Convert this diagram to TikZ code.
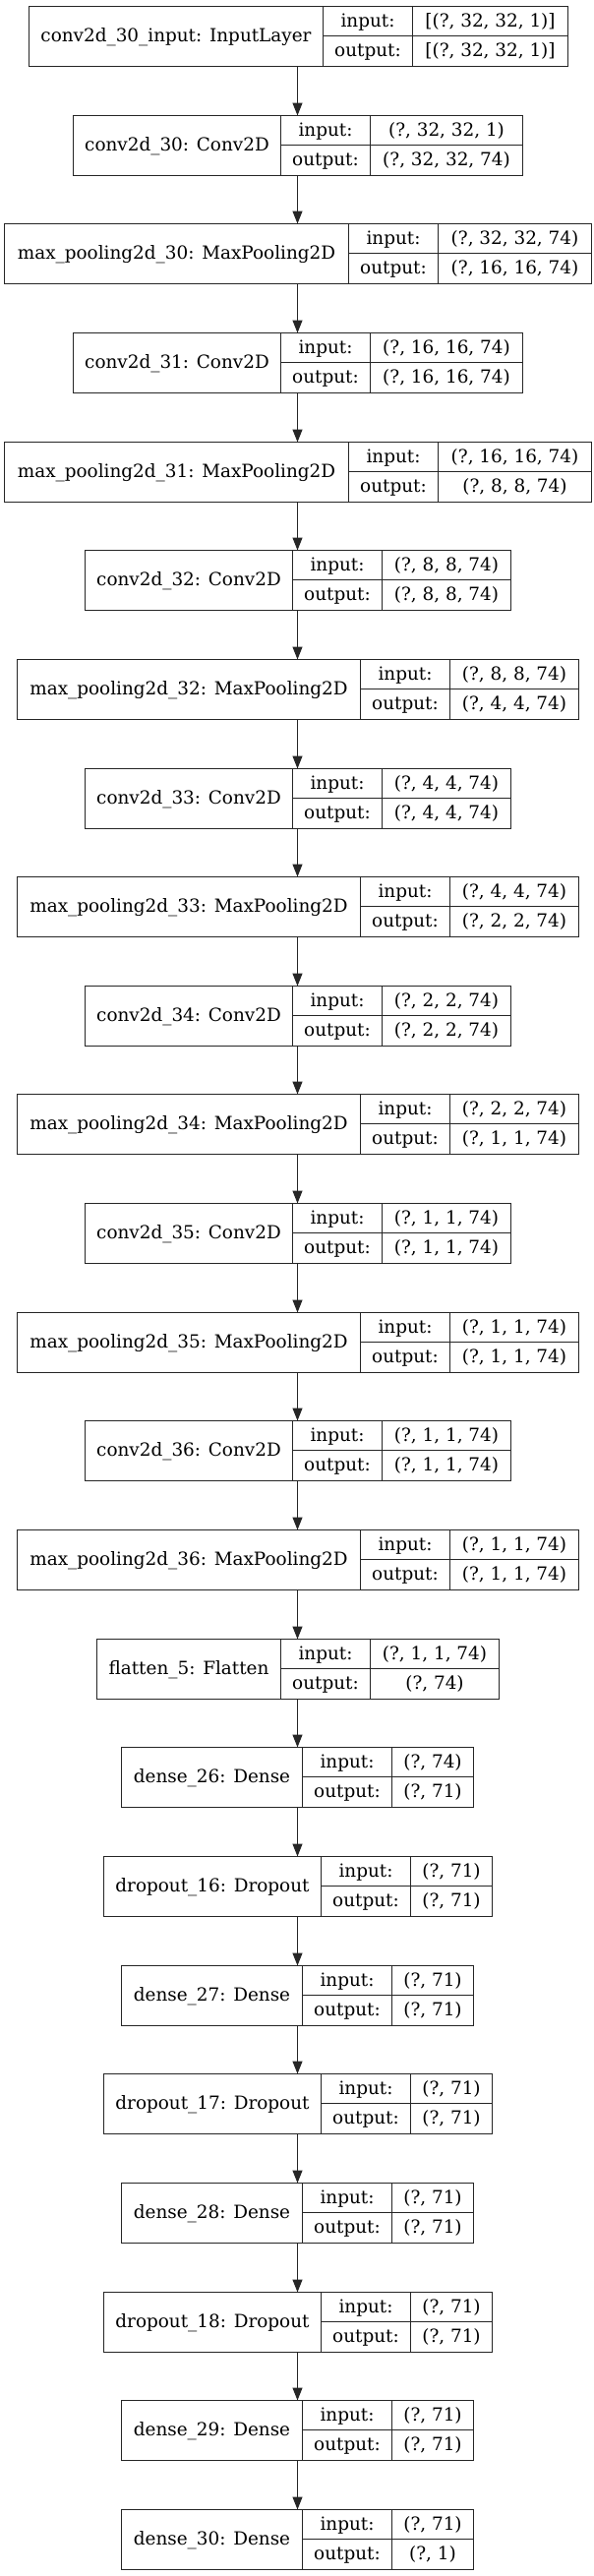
\documentclass[tikz,border=0pt]{standalone}
\usepackage{fontspec}
\setmainfont{DejaVu Serif}
\usetikzlibrary{arrows.meta}
\tikzset{
  lbox/.style={draw=black!85, line width=1.3pt, inner sep=0pt, outer sep=0pt, fill=white},
  cell/.style={draw=black!85, line width=1.3pt},
  txt/.style={anchor=base, inner sep=0pt, font=\fontsize{18.4}{22}\selectfont},
  edge/.style={draw=black!85, line width=1.3pt, -{Triangle[length=13pt, width=10pt]}}
}
% #1 name, #2 row index, #3..#6 x of left edge, label/key split, key/value split, right edge
% #7 label, #8 input value, #9 output value
\newcommand\kerasrow[9]{%
  \pgfmathsetmacro\yt{round(6+110.65*#2)+0.5}%
  \pgfmathsetmacro\yb{\yt+61}%
  \pgfmathsetmacro\ym{\yt+30}%
  \node[lbox, minimum width={#6-#3}, minimum height=61, anchor=north west] (#1) at (#3,\yt) {};
  \draw[cell] (#4,\yt) -- (#4,\yb) (#5,\yt) -- (#5,\yb) (#4,\ym) -- (#6,\ym);
  \node[txt] (#1-lab) at ({(#3+#4)/2},{\yt+30.5+5.5}) {#7};
  \node[txt] (#1-ik) at ({(#4+#5)/2},{\yt+15+5.5}) {input:};
  \node[txt] (#1-ok) at ({(#4+#5)/2},{\yt+45.5+5.5}) {output:};
  \node[txt] (#1-iv) at ({(#5+#6)/2},{\yt+15+5.5}) {#8};
  \node[txt] (#1-ov) at ({(#5+#6)/2},{\yt+45.5+5.5}) {#9};
}
\begin{document}
\begin{tikzpicture}[x=1pt,y=-1pt]
\fill[white] (0,0) rectangle (604,2619);
\useasboundingbox (0,0) rectangle (604,2619);
\coordinate (axis) at (302.5,0);
\kerasrow{L0}{0}{29.5}{328.5}{419.5}{577.5}{conv2d\_30\_input: InputLayer}{[(?, 32, 32, 1)]}{[(?, 32, 32, 1)]}
\kerasrow{L1}{1}{74.5}{285.5}{376.5}{531.5}{conv2d\_30: Conv2D}{(?, 32, 32, 1)}{(?, 32, 32, 74)}
\kerasrow{L2}{2}{4.5}{354.5}{445.5}{601.5}{max\_pooling2d\_30: MaxPooling2D}{(?, 32, 32, 74)}{(?, 16, 16, 74)}
\kerasrow{L3}{3}{74.5}{285.5}{376.5}{531.5}{conv2d\_31: Conv2D}{(?, 16, 16, 74)}{(?, 16, 16, 74)}
\kerasrow{L4}{4}{4.5}{354.5}{445.5}{601.5}{max\_pooling2d\_31: MaxPooling2D}{(?, 16, 16, 74)}{(?, 8, 8, 74)}
\kerasrow{L5}{5}{86.5}{297.5}{388.5}{519.5}{conv2d\_32: Conv2D}{(?, 8, 8, 74)}{(?, 8, 8, 74)}
\kerasrow{L6}{6}{17.5}{366.5}{457.5}{588.5}{max\_pooling2d\_32: MaxPooling2D}{(?, 8, 8, 74)}{(?, 4, 4, 74)}
\kerasrow{L7}{7}{86.5}{297.5}{388.5}{519.5}{conv2d\_33: Conv2D}{(?, 4, 4, 74)}{(?, 4, 4, 74)}
\kerasrow{L8}{8}{17.5}{366.5}{457.5}{588.5}{max\_pooling2d\_33: MaxPooling2D}{(?, 4, 4, 74)}{(?, 2, 2, 74)}
\kerasrow{L9}{9}{86.5}{297.5}{388.5}{519.5}{conv2d\_34: Conv2D}{(?, 2, 2, 74)}{(?, 2, 2, 74)}
\kerasrow{L10}{10}{17.5}{366.5}{457.5}{588.5}{max\_pooling2d\_34: MaxPooling2D}{(?, 2, 2, 74)}{(?, 1, 1, 74)}
\kerasrow{L11}{11}{86.5}{297.5}{388.5}{519.5}{conv2d\_35: Conv2D}{(?, 1, 1, 74)}{(?, 1, 1, 74)}
\kerasrow{L12}{12}{17.5}{366.5}{457.5}{588.5}{max\_pooling2d\_35: MaxPooling2D}{(?, 1, 1, 74)}{(?, 1, 1, 74)}
\kerasrow{L13}{13}{86.5}{297.5}{388.5}{519.5}{conv2d\_36: Conv2D}{(?, 1, 1, 74)}{(?, 1, 1, 74)}
\kerasrow{L14}{14}{17.5}{366.5}{457.5}{588.5}{max\_pooling2d\_36: MaxPooling2D}{(?, 1, 1, 74)}{(?, 1, 1, 74)}
\kerasrow{L15}{15}{98.5}{285.5}{376.5}{507.5}{flatten\_5: Flatten}{(?, 1, 1, 74)}{(?, 74)}
\kerasrow{L16}{16}{123.5}{307.5}{398.5}{481.5}{dense\_26: Dense}{(?, 74)}{(?, 71)}
\kerasrow{L17}{17}{105.5}{326.5}{417.5}{500.5}{dropout\_16: Dropout}{(?, 71)}{(?, 71)}
\kerasrow{L18}{18}{123.5}{307.5}{398.5}{481.5}{dense\_27: Dense}{(?, 71)}{(?, 71)}
\kerasrow{L19}{19}{105.5}{326.5}{417.5}{500.5}{dropout\_17: Dropout}{(?, 71)}{(?, 71)}
\kerasrow{L20}{20}{123.5}{307.5}{398.5}{481.5}{dense\_28: Dense}{(?, 71)}{(?, 71)}
\kerasrow{L21}{21}{105.5}{326.5}{417.5}{500.5}{dropout\_18: Dropout}{(?, 71)}{(?, 71)}
\kerasrow{L22}{22}{123.5}{307.5}{398.5}{481.5}{dense\_29: Dense}{(?, 71)}{(?, 71)}
\kerasrow{L23}{23}{123.5}{307.5}{398.5}{481.5}{dense\_30: Dense}{(?, 71)}{(?, 1)}
\foreach \a [evaluate=\a as \b using int(\a+1)] in {0,...,22}
  \draw[edge] (L\a.south -| axis) -- (L\b.north -| axis);
\end{tikzpicture}
\end{document}
